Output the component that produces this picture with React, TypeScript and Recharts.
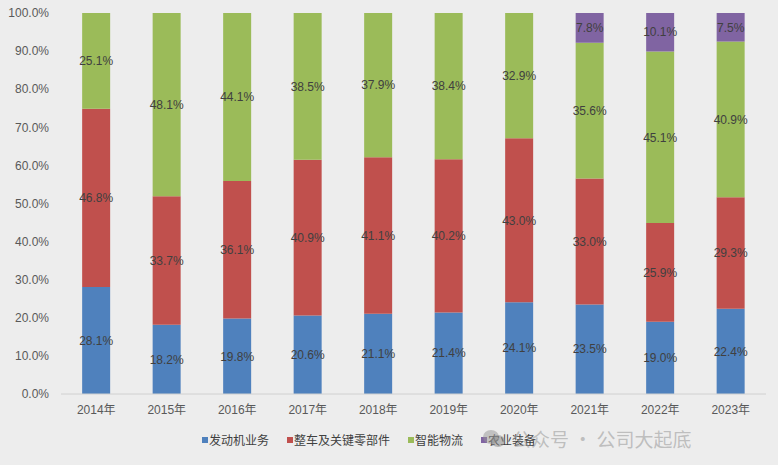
import React from "react";
import { BarChart, Bar, XAxis, YAxis, LabelList } from "recharts";

const years = ["2014年", "2015年", "2016年", "2017年", "2018年", "2019年", "2020年", "2021年", "2022年", "2023年"];
const engine = [28.1, 18.2, 19.8, 20.6, 21.1, 21.4, 24.1, 23.5, 19.0, 22.4];
const vehicle = [46.8, 33.7, 36.1, 40.9, 41.1, 40.2, 43.0, 33.0, 25.9, 29.3];
const logistics = [25.1, 48.1, 44.1, 38.5, 37.9, 38.4, 32.9, 35.6, 45.1, 40.9];
const agri = [0, 0, 0, 0, 0, 0, 0, 7.8, 10.1, 7.5];
const yTicks = [0, 0.1, 0.2, 0.3, 0.4, 0.5, 0.6, 0.7, 0.8, 0.9, 1];

const SERIES = [
  { key: "engine", name: "发动机业务", color: "#4F81BD" },
  { key: "vehicle", name: "整车及关键零部件", color: "#C0504D" },
  { key: "logistics", name: "智能物流", color: "#9BBB59" },
  { key: "agri", name: "农业装备", color: "#8064A2" },
];

const FONT = "'Liberation Sans', 'Noto Sans CJK SC', sans-serif";
const BG = "#EDEDED";

const data = years.map((year, i) => ({
  year,
  engine: engine[i],
  vehicle: vehicle[i],
  logistics: logistics[i],
  agri: agri[i],
}));

const fmtLabel = (v: any) => (v ? `${Number(v).toFixed(1)}%` : "");

export default function App() {
  return (
    <div style={{ position: "fixed", left: 0, top: 0, width: 778, height: 465, background: BG, fontFamily: FONT }}>
      <BarChart
        width={778}
        height={465}
        data={data}
        stackOffset="expand"
        barCategoryGap="30%"
        margin={{ top: 13, right: 12, left: 0, bottom: 41 }}
      >
        <XAxis
          dataKey="year"
          tickLine={false}
          axisLine={{ stroke: "#D0D0D0" }}
          tickMargin={5}
          tick={{ fill: "#595959", fontSize: 12, fontFamily: FONT }}
          interval={0}
        />
        <YAxis
          width={61}
          domain={[0, 1]}
          ticks={yTicks}
          axisLine={false}
          tickLine={false}
          tickMargin={6}
          tick={{ fill: "#595959", fontSize: 12, fontFamily: FONT }}
          tickFormatter={(v: number) => `${(v * 100).toFixed(1)}%`}
        />
        {SERIES.map((s) => (
          <Bar key={s.key} dataKey={s.key} name={s.name} stackId="a" fill={s.color} isAnimationActive={false}>
            <LabelList
              dataKey={s.key}
              position="center"
              formatter={fmtLabel}
              style={{ fill: "#404040", fontSize: 12, fontFamily: FONT }}
            />
          </Bar>
        ))}
      </BarChart>
      <div
        style={{
          position: "absolute",
          left: 202,
          top: 431,
          display: "flex",
          alignItems: "center",
          fontSize: 12,
          color: "#404040",
          fontFamily: "'Noto Sans CJK SC', sans-serif",
          lineHeight: "18px",
        }}
      >
        {SERIES.map((s) => (
          <div key={s.key} style={{ display: "flex", alignItems: "center", marginRight: 18 }}>
            <span style={{ width: 6, height: 6, background: s.color, marginRight: 1, display: "inline-block" }} />
            <span>{s.name}</span>
          </div>
        ))}
      </div>
      <div
        style={{
          position: "absolute",
          left: 482,
          top: 426,
          display: "flex",
          alignItems: "center",
          color: "rgba(150,150,150,0.55)",
          fontSize: 19,
          fontFamily: "'Noto Sans CJK SC', sans-serif",
          lineHeight: "26px",
        }}
      >
        <svg width={24} height={20} style={{ marginRight: 6 }}>
          <ellipse cx={9} cy={8} rx={8} ry={7} fill="rgba(150,150,150,0.5)" />
          <ellipse cx={16} cy={12} rx={7} ry={6} fill="rgba(130,130,130,0.5)" />
        </svg>
        <span>公众号 · 公司大起底</span>
      </div>
    </div>
  );
}
